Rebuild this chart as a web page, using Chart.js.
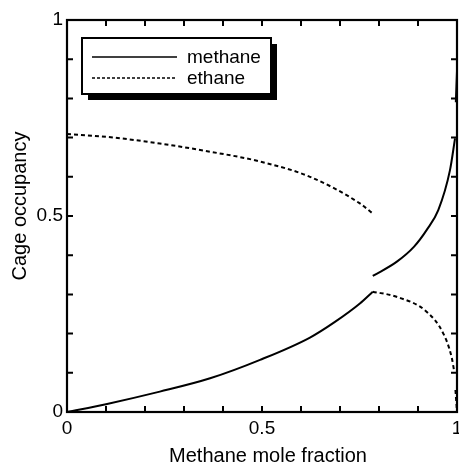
<!DOCTYPE html>
<html lang="en">
<head>
    <meta charset="UTF-8">
    <title>Cage occupancy</title>
    <script src="https://cdn.jsdelivr.net/npm/chart.js"></script>
    <style>
        body { margin: 0; background: #fff; }
        #wrap { width: 459px; height: 469px; }
    </style>
</head>
<body>
    <div id="wrap"><canvas id="occChart"></canvas></div>

    <script>
        // values; null breaks the line
        const methaneX = [0, 0.1, 0.238, 0.367, 0.495, 0.623, 0.687, 0.751, 0.784, 0.784,
                          0.784, 0.845, 0.89, 0.922, 0.952, 0.982, 0.995, 0.996, 0.997, 1.0];
        const methaneY = [0, 0.02, 0.052, 0.086, 0.133, 0.19, 0.23, 0.277, 0.307, null,
                          0.347, 0.383, 0.422, 0.464, 0.515, 0.617, 0.698, null, 0.79, 0.87];

        const ethaneX = [0, 0.1, 0.238, 0.367, 0.495, 0.623, 0.751, 0.782, 0.783,
                         0.784, 0.845, 0.922, 0.965, 0.986, 0.993, 0.994, 0.996, 1.0];
        const ethaneY = [0.709, 0.702, 0.685, 0.664, 0.639, 0.6, 0.532, 0.508, null,
                         0.307, 0.294, 0.256, 0.2, 0.141, 0.103, null, 0.056, 0];

        const tickValues = [0, 0.1, 0.2, 0.3, 0.4, 0.5, 0.6, 0.7, 0.8, 0.9, 1];
        const tickLabels = ['0', '', '', '', '', '0.5', '', '', '', '', '1'];

        const xTitle = 'Methane mole fraction';
        const yTitle = 'Cage occupancy';

        const FONT = '"Liberation Sans", Arial, Helvetica, sans-serif';

        function toPoints(xs, ys) {
            return xs.map((x, i) => ({ x: x, y: ys[i] }));
        }

        // frame, inward ticks, axis titles and the boxed legend with its shadow
        const framePlugin = {
            id: 'frame',
            afterDatasetsDraw(chart) {
                const ctx = chart.ctx;
                const a = chart.chartArea;
                const xs = chart.scales.x, ys = chart.scales.y;
                ctx.save();
                ctx.strokeStyle = '#000';
                ctx.lineWidth = 2;
                ctx.beginPath();
                tickValues.forEach(v => {
                    const px = xs.getPixelForValue(v);
                    ctx.moveTo(px, a.bottom); ctx.lineTo(px, a.bottom - 6);
                    ctx.moveTo(px, a.top); ctx.lineTo(px, a.top + 6);
                    const py = ys.getPixelForValue(v);
                    ctx.moveTo(a.left, py); ctx.lineTo(a.left + 6, py);
                    ctx.moveTo(a.right, py); ctx.lineTo(a.right - 6, py);
                });
                ctx.stroke();
                ctx.lineWidth = 2.2;
                ctx.strokeRect(a.left, a.top, a.right - a.left, a.bottom - a.top);

                // axis titles (centred a little off the plot centre, as in the figure)
                ctx.fillStyle = '#000';
                ctx.font = '20px ' + FONT;
                ctx.textAlign = 'center';
                ctx.textBaseline = 'alphabetic';
                ctx.fillText(xTitle, (a.left + a.right) / 2 + 6, 462);
                ctx.translate(26, (a.top + a.bottom) / 2 - 10);
                ctx.rotate(-Math.PI / 2);
                ctx.fillText(yTitle, 0, 0);
                ctx.restore();
            },
            afterDraw(chart) {
                const ctx = chart.ctx;
                const bx = 82, by = 38, bw = 189, bh = 56;
                ctx.save();
                ctx.fillStyle = '#000';
                ctx.fillRect(bx + 6, by + 6, bw, bh);
                ctx.fillStyle = '#fff';
                ctx.fillRect(bx, by, bw, bh);
                ctx.strokeStyle = '#000';
                ctx.lineWidth = 2;
                ctx.strokeRect(bx, by, bw, bh);

                ctx.font = '19px ' + FONT;
                ctx.textBaseline = 'middle';
                chart.data.datasets.forEach((ds, i) => {
                    const y = by + 19 + i * 21;
                    ctx.beginPath();
                    ctx.lineWidth = 1.5;
                    ctx.setLineDash(ds.borderDash.length ? [3, 2] : []);
                    ctx.moveTo(bx + 10, y);
                    ctx.lineTo(bx + 95, y);
                    ctx.stroke();
                    ctx.setLineDash([]);
                    ctx.fillStyle = '#000';
                    ctx.fillText(ds.label, bx + 105, y + 1);
                });
                ctx.restore();
            }
        };

        const ctx = document.getElementById('occChart').getContext('2d');
        new Chart(ctx, {
            type: 'scatter',
            data: {
                datasets: [{
                    label: 'methane',
                    data: toPoints(methaneX, methaneY),
                    showLine: true,
                    borderColor: '#000',
                    borderWidth: 2,
                    borderDash: [],
                    pointRadius: 0,
                    cubicInterpolationMode: 'monotone',
                    spanGaps: false
                }, {
                    label: 'ethane',
                    data: toPoints(ethaneX, ethaneY),
                    showLine: true,
                    borderColor: '#000',
                    borderWidth: 2,
                    borderDash: [4, 3],
                    pointRadius: 0,
                    cubicInterpolationMode: 'monotone',
                    spanGaps: false
                }]
            },
            options: {
                responsive: true,
                maintainAspectRatio: false,
                animation: false,
                devicePixelRatio: 1,
                clip: false,
                layout: { padding: { top: 20, right: 2, left: 0, bottom: 0 } },
                plugins: {
                    legend: { display: false },
                    tooltip: { enabled: false }
                },
                scales: {
                    x: {
                        type: 'linear',
                        min: 0, max: 1,
                        afterBuildTicks: s => { s.ticks = tickValues.map(v => ({ value: v })); },
                        afterFit: s => { s.height = 57; s.paddingLeft = 0; s.paddingRight = 0; },
                        grid: { display: false, drawTicks: false },
                        border: { display: false },
                        ticks: {
                            autoSkip: false,
                            maxRotation: 0,
                            padding: 5,
                            color: '#000',
                            font: { family: FONT, size: 19 },
                            callback: (v, i) => tickLabels[i]
                        }
                    },
                    y: {
                        type: 'linear',
                        min: 0, max: 1,
                        afterBuildTicks: s => { s.ticks = tickValues.map(v => ({ value: v })); },
                        afterFit: s => { s.width = 67; s.paddingTop = 0; s.paddingBottom = 0; },
                        grid: { display: false, drawTicks: false },
                        border: { display: false },
                        ticks: {
                            autoSkip: false,
                            padding: 4,
                            color: '#000',
                            font: { family: FONT, size: 19 },
                            callback: (v, i) => tickLabels[i]
                        }
                    }
                }
            },
            plugins: [framePlugin]
        });
    </script>
</body>
</html>
